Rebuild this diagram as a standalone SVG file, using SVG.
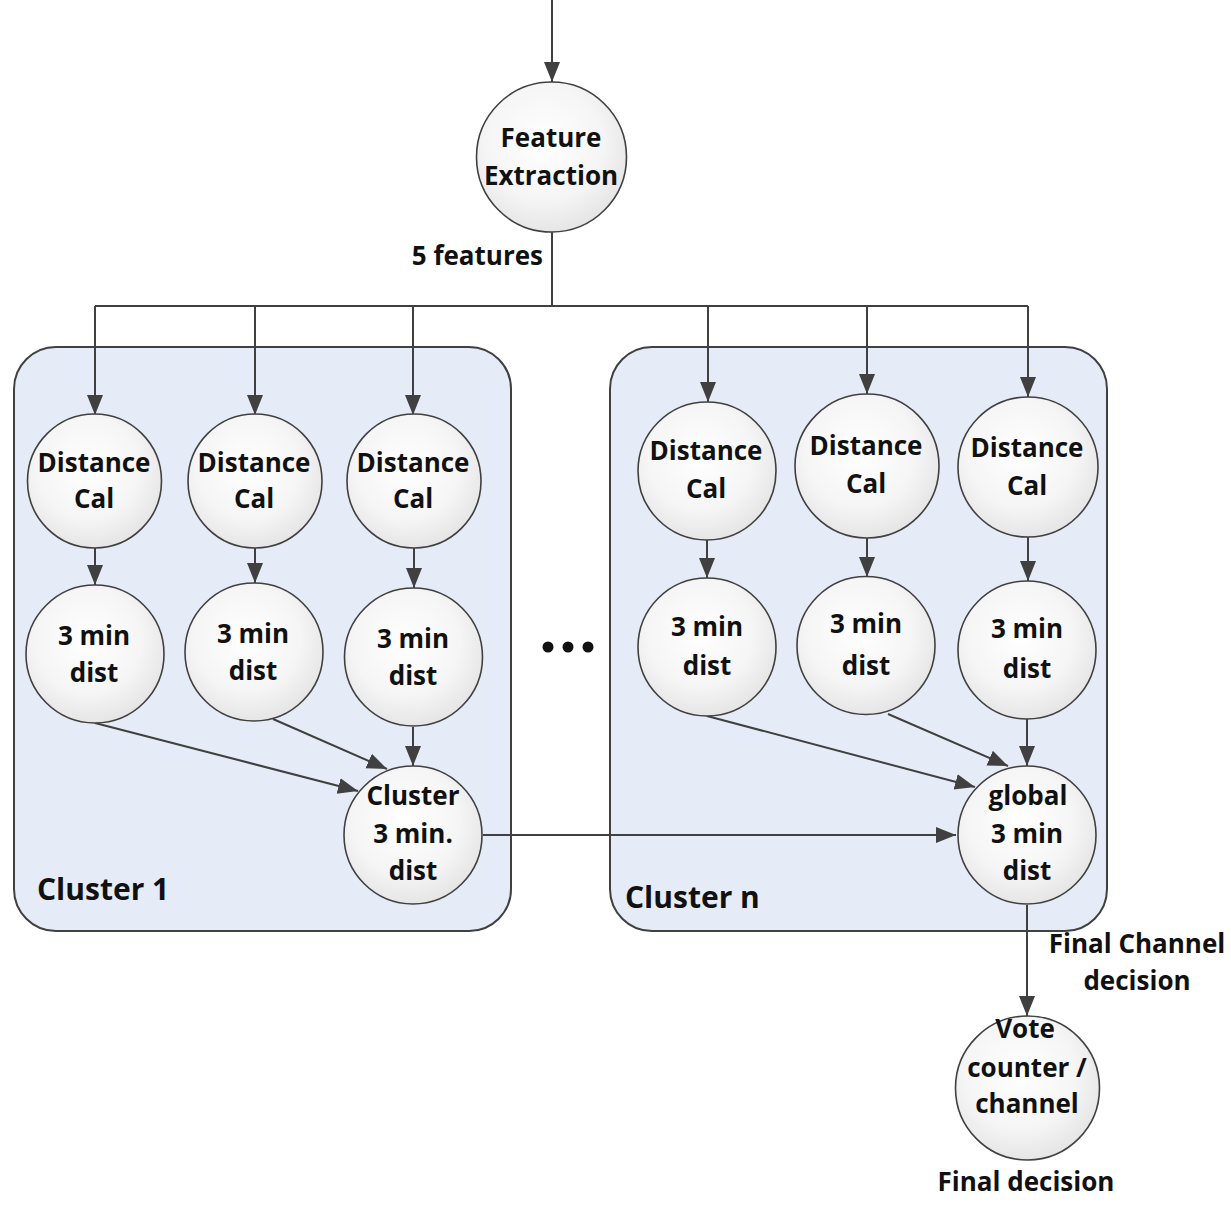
<svg xmlns="http://www.w3.org/2000/svg" width="1231" height="1208" viewBox="0 0 1231 1208">
<defs>
<radialGradient id="cg" cx="0.45" cy="0.4" r="0.65">
<stop offset="0" stop-color="#ffffff"/>
<stop offset="0.6" stop-color="#f5f5f5"/>
<stop offset="1" stop-color="#e2e2e2"/>
</radialGradient>
<marker id="ah" markerUnits="userSpaceOnUse" markerWidth="21" markerHeight="18" viewBox="0 0 21 18" refX="20" refY="9" orient="auto">
<path d="M0,1 L20,9 L0,17 Z" fill="#404040"/>
</marker>
</defs>
<style>
.n circle{fill:url(#cg);stroke:#404040;stroke-width:1.6}
.box{fill:#e6ecf7;stroke:#404040;stroke-width:2}
text{font-family:"Open Sans","Liberation Sans",sans-serif;font-weight:bold;fill:#111111;text-anchor:middle}
.t{font-size:26px}
.s{font-size:26px}
.big{font-size:30px;text-anchor:start}
.c line,.c polyline{stroke:#404040;stroke-width:2;fill:none}
.a{marker-end:url(#ah)}
</style>
<rect width="1231" height="1208" fill="#ffffff"/>
<g id="cluster1"><rect class="box" x="14" y="347" width="497" height="584" rx="42"/><text class="big" x="37" y="900">Cluster 1</text></g>
<g id="clustern"><rect class="box" x="610" y="347" width="497" height="584" rx="42"/><text class="big" x="625" y="908">Cluster n</text></g>
<g id="connectors" class="c">
<line class="a" x1="552" y1="0" x2="552" y2="82"/>
<line x1="552" y1="232" x2="552" y2="306"/>
<line x1="95" y1="306" x2="1028" y2="306"/>
<line class="a" x1="95" y1="306" x2="95" y2="415"/>
<line class="a" x1="255" y1="306" x2="255" y2="415"/>
<line class="a" x1="413" y1="306" x2="413" y2="415"/>
<line class="a" x1="708" y1="306" x2="708" y2="402"/>
<line class="a" x1="867" y1="306" x2="867" y2="394"/>
<line class="a" x1="1028" y1="306" x2="1028" y2="397"/>
<line class="a" x1="95" y1="547" x2="95" y2="585"/>
<line class="a" x1="255" y1="547" x2="255" y2="583"/>
<line class="a" x1="414" y1="547" x2="414" y2="588"/>
<line class="a" x1="707" y1="540" x2="707" y2="578"/>
<line class="a" x1="867" y1="538" x2="867" y2="577"/>
<line class="a" x1="1028" y1="537" x2="1028" y2="581"/>
<line class="a" x1="95" y1="723" x2="358" y2="791"/>
<line class="a" x1="273" y1="719" x2="387" y2="769"/>
<line class="a" x1="413" y1="727" x2="413" y2="766"/>
<line class="a" x1="707" y1="716" x2="975" y2="787"/>
<line class="a" x1="888" y1="714" x2="1008" y2="766"/>
<line class="a" x1="1027" y1="719" x2="1027" y2="766"/>
<line class="a" x1="483" y1="835" x2="956" y2="835"/>
<line class="a" x1="1027" y1="905" x2="1027" y2="1016"/>
</g>
<g id="feature" class="n"><circle cx="551.5" cy="157" r="75"/><text class="t" x="551" y="147">Feature</text><text class="t" x="551" y="185">Extraction</text></g>
<g id="dc1" class="n"><circle cx="94.5" cy="481" r="67"/><text class="t" x="94" y="472">Distance</text><text class="t" x="94" y="508">Cal</text></g>
<g id="dc2" class="n"><circle cx="255" cy="481" r="67"/><text class="t" x="254" y="472">Distance</text><text class="t" x="254" y="508">Cal</text></g>
<g id="dc3" class="n"><circle cx="414" cy="481" r="67"/><text class="t" x="413" y="472">Distance</text><text class="t" x="413" y="508">Cal</text></g>
<g id="md1" class="n"><circle cx="95" cy="654" r="69"/><text class="t" x="94" y="645">3 min</text><text class="t" x="94" y="682">dist</text></g>
<g id="md2" class="n"><circle cx="254" cy="652" r="69"/><text class="t" x="253" y="643">3 min</text><text class="t" x="253" y="680">dist</text></g>
<g id="md3" class="n"><circle cx="413.5" cy="657" r="69"/><text class="t" x="413" y="648">3 min</text><text class="t" x="413" y="685">dist</text></g>
<g id="cmd" class="n"><circle cx="413" cy="835" r="69"/><text class="t" x="413" y="805">Cluster</text><text class="t" x="413" y="843">3 min.</text><text class="t" x="413" y="880">dist</text></g>
<g id="dcn1" class="n"><circle cx="707" cy="471" r="69"/><text class="t" x="706" y="460">Distance</text><text class="t" x="706" y="498">Cal</text></g>
<g id="dcn2" class="n"><circle cx="867" cy="466" r="72"/><text class="t" x="866" y="455">Distance</text><text class="t" x="866" y="493">Cal</text></g>
<g id="dcn3" class="n"><circle cx="1028" cy="467" r="70"/><text class="t" x="1027" y="457">Distance</text><text class="t" x="1027" y="495">Cal</text></g>
<g id="mdn1" class="n"><circle cx="707" cy="647" r="69"/><text class="t" x="707" y="636">3 min</text><text class="t" x="707" y="675">dist</text></g>
<g id="mdn2" class="n"><circle cx="866" cy="645.5" r="69"/><text class="t" x="866" y="633">3 min</text><text class="t" x="866" y="675">dist</text></g>
<g id="mdn3" class="n"><circle cx="1027" cy="650" r="69"/><text class="t" x="1027" y="638">3 min</text><text class="t" x="1027" y="678">dist</text></g>
<g id="global" class="n"><circle cx="1027" cy="835" r="69"/><text class="t" x="1028" y="805">global</text><text class="t" x="1027" y="843">3 min</text><text class="t" x="1027" y="880">dist</text></g>
<g id="vote" class="n"><circle cx="1027.5" cy="1088" r="72"/><text class="t" x="1025" y="1038">Vote</text><text class="t" x="1027" y="1077">counter /</text><text class="t" x="1027" y="1113">channel</text></g>
<g id="labels">
<text class="t" x="543" y="265" style="text-anchor:end">5 features</text>
<text class="s" x="1137" y="953">Final Channel</text>
<text class="s" x="1137" y="990">decision</text>
<text class="t" x="1026" y="1191">Final decision</text>
</g>
<g id="dots" fill="#111111"><circle cx="548" cy="647" r="5.5"/><circle cx="568" cy="647" r="5.5"/><circle cx="588" cy="647" r="5.5"/></g>
</svg>
